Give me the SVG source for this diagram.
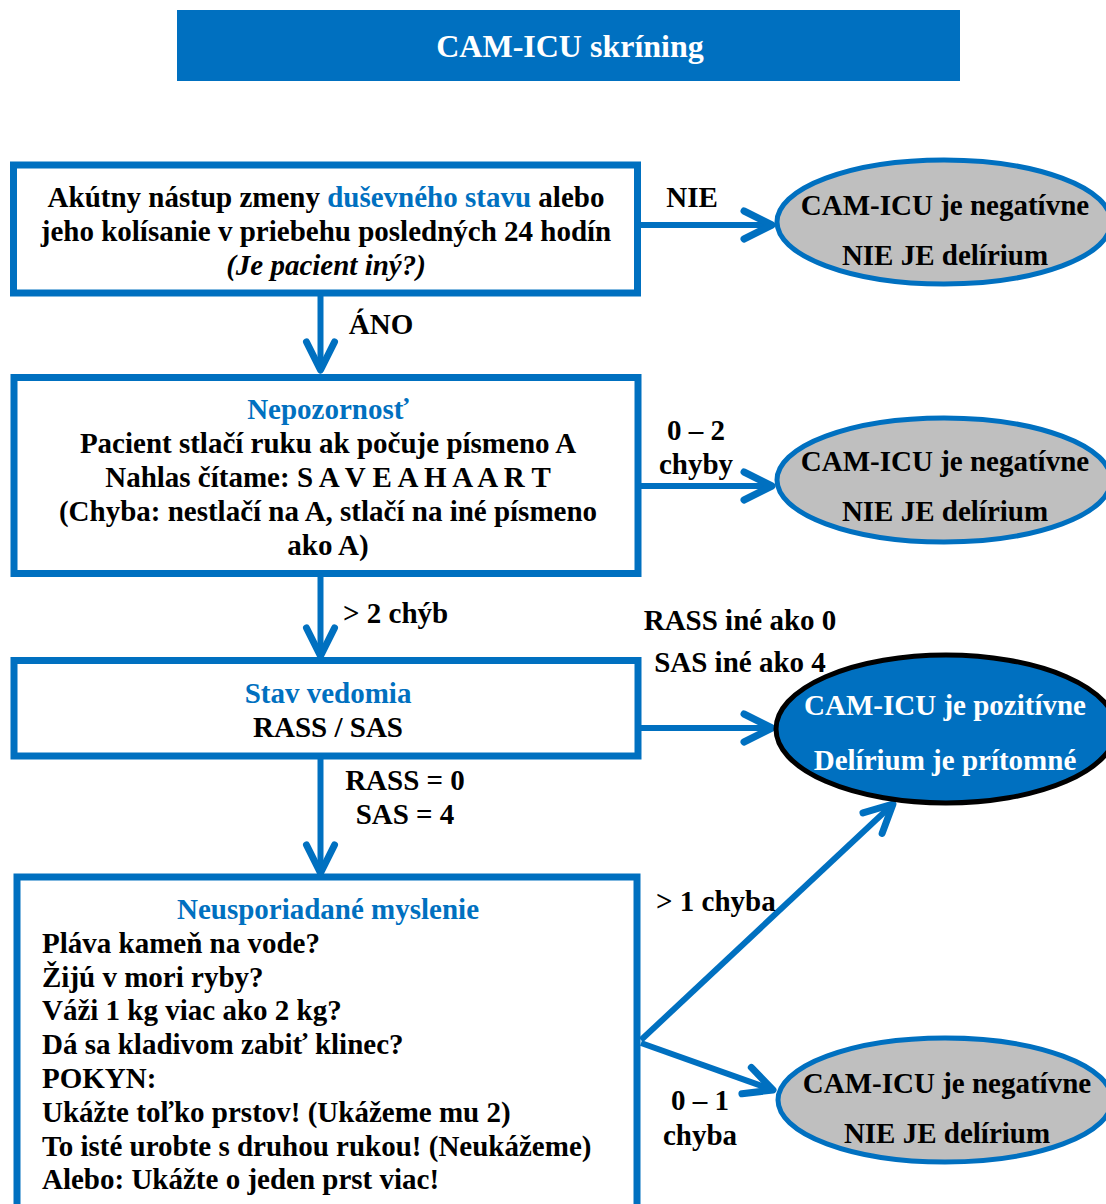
<svg xmlns="http://www.w3.org/2000/svg" width="1106" height="1204" viewBox="0 0 1106 1204">
<style>
text{font-family:"Liberation Serif","Times New Roman",serif;font-weight:bold;font-size:29px;fill:#000}
.c{text-anchor:middle}
.b{fill:#0070C0}
.w{fill:#fff}
.box{fill:#fff;stroke:#0070C0;stroke-width:7}
.neg{fill:#BFBFBF;stroke:#0070C0;stroke-width:5}
.pos{fill:#0070C0;stroke:#000;stroke-width:5}
.ln{fill:none;stroke:#0070C0;stroke-width:6;marker-end:url(#ah)}
</style>
<defs>
<marker id="ah" markerUnits="userSpaceOnUse" markerWidth="40" markerHeight="40" viewBox="-34 -20 40 40" refX="0" refY="0" orient="auto" overflow="visible">
<path d="M-28,-14 L0,0 L-28,14" fill="none" stroke="#0070C0" stroke-width="7" stroke-linecap="round" stroke-linejoin="round"/>
</marker>
</defs>
<g id="title">
<rect x="177" y="10" width="783" height="71" fill="#0070C0"/>
<text class="c w" x="570" y="57" style="font-size:32px">CAM-ICU skríning</text>
</g>
<g id="connectors">
<path class="ln" d="M320.5,296 V370"/>
<path class="ln" d="M320.5,576 V656"/>
<path class="ln" d="M320.5,759 V873"/>
<path class="ln" d="M641,225 H772"/>
<path class="ln" d="M641,486 H772"/>
<path class="ln" d="M641,728 H772"/>
<path class="ln" d="M641,1040 L893,804"/>
<path class="ln" d="M641,1043 L773,1090"/>
</g>
<g id="labels">
<text class="c" x="692" y="207">NIE</text>
<text class="c" x="381" y="334">ÁNO</text>
<text class="c" x="696" y="440">0 – 2</text>
<text class="c" x="696" y="474">chyby</text>
<text x="343" y="623">&gt; 2 chýb</text>
<text class="c" x="740" y="630">RASS iné ako 0</text>
<text class="c" x="740" y="672">SAS iné ako 4</text>
<text class="c" x="405" y="790">RASS = 0</text>
<text class="c" x="405" y="824">SAS = 4</text>
<text x="656" y="911">&gt; 1 chyba</text>
<text class="c" x="700" y="1110">0 – 1</text>
<text class="c" x="700" y="1145">chyba</text>
</g>
<g id="box1">
<rect class="box" x="13.5" y="165" width="624" height="128"/>
<text class="c" x="326" y="207">Akútny nástup zmeny <tspan class="b">duševného stavu</tspan> alebo</text>
<text class="c" x="326" y="241">jeho kolísanie v priebehu posledných 24 hodín</text>
<text class="c" x="326" y="275" font-style="italic">(Je pacient iný?)</text>
</g>
<g id="box2">
<rect class="box" x="14" y="377.5" width="624" height="196"/>
<text class="c b" x="328" y="419">Nepozornosť</text>
<text class="c" x="328" y="453">Pacient stlačí ruku ak počuje písmeno A</text>
<text class="c" x="328" y="487">Nahlas čítame: S A V E A H A A R T</text>
<text class="c" x="328" y="521">(Chyba: nestlačí na A, stlačí na iné písmeno</text>
<text class="c" x="328" y="555">ako A)</text>
</g>
<g id="box3">
<rect class="box" x="14" y="660.5" width="624" height="95.5"/>
<text class="c b" x="328" y="703">Stav vedomia</text>
<text class="c" x="328" y="737">RASS / SAS</text>
</g>
<g id="box4">
<rect class="box" x="17" y="877" width="620" height="360"/>
<text class="c b" x="328" y="919">Neusporiadané myslenie</text>
<text x="42" y="953">Pláva kameň na vode?</text>
<text x="42" y="987">Žijú v mori ryby?</text>
<text x="42" y="1020">Váži 1 kg viac ako 2 kg?</text>
<text x="42" y="1054">Dá sa kladivom zabiť klinec?</text>
<text x="42" y="1088">POKYN:</text>
<text x="42" y="1122">Ukážte toľko prstov! (Ukážeme mu 2)</text>
<text x="42" y="1156">To isté urobte s druhou rukou! (Neukážeme)</text>
<text x="42" y="1189">Alebo: Ukážte o jeden prst viac!</text>
</g>
<g id="neg1">
<ellipse class="neg" cx="944" cy="222" rx="167" ry="62"/>
<text class="c" x="945" y="215">CAM-ICU je negatívne</text>
<text class="c" x="945" y="265">NIE JE delírium</text>
</g>
<g id="neg2">
<ellipse class="neg" cx="944" cy="480" rx="167" ry="62"/>
<text class="c" x="945" y="471">CAM-ICU je negatívne</text>
<text class="c" x="945" y="521">NIE JE delírium</text>
</g>
<g id="pos">
<ellipse class="pos" cx="946" cy="729" rx="170" ry="74"/>
<text class="c w" x="945" y="715">CAM-ICU je pozitívne</text>
<text class="c w" x="945" y="770">Delírium je prítomné</text>
</g>
<g id="neg3">
<ellipse class="neg" cx="945" cy="1100" rx="167" ry="62"/>
<text class="c" x="947" y="1093">CAM-ICU je negatívne</text>
<text class="c" x="947" y="1143">NIE JE delírium</text>
</g>
</svg>
